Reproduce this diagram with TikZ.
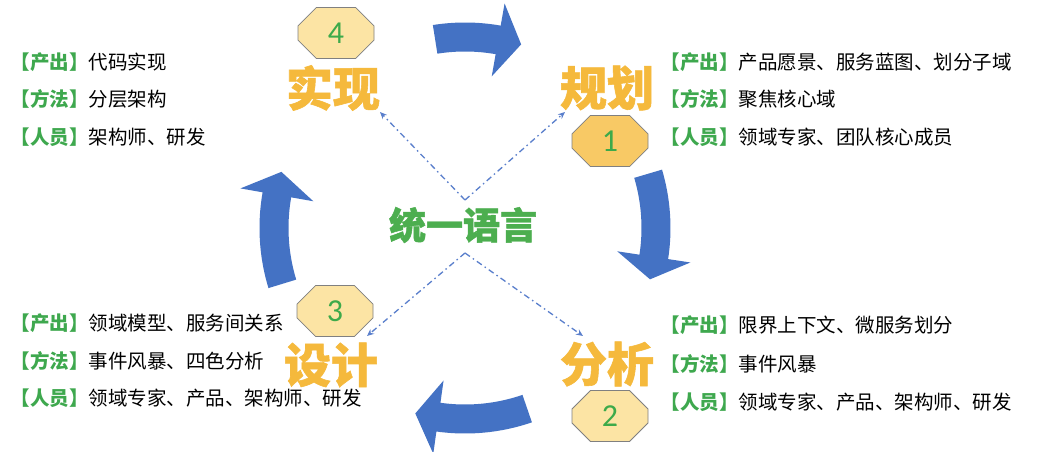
\documentclass[tikz,border=0pt]{standalone}
\usepackage{fontspec}
\setmainfont{Noto Sans CJK SC}
\newfontfamily\heavyfont{Noto Sans CJK SC}[BoldFeatures={FakeBold=1.2}]
\newfontfamily\digitfont{Carlito}
\usetikzlibrary{arrows.meta,shapes.misc}
\definecolor{ablue}{HTML}{4472C4}
\definecolor{dblue}{HTML}{5A7FCC}
\definecolor{torange}{HTML}{F5B93C}
\definecolor{lgreen}{HTML}{3EA84E}
\definecolor{cgreen}{HTML}{4CAE4F}
\definecolor{dgreen}{HTML}{3DAA4A}
\definecolor{octlight}{HTML}{FCE4A4}
\definecolor{octstrong}{HTML}{F8C965}
\definecolor{octborder}{HTML}{808080}
\newcommand\lab[1]{{\color{lgreen}\bfseries 【#1】}}
\newcommand\cycarrow[3]{%
  \fill[ablue] (#1:205.5) arc[start angle=#1,end angle=#2,radius=205.5]
    -- (#2:228) -- (#3:192) -- (#2:154) -- (#2:176.5)
    arc[start angle=#2,end angle=#1,radius=176.5] -- cycle;}
\tikzset{
  oct/.style={chamfered rectangle, chamfered rectangle xsep=12pt,
    chamfered rectangle ysep=12pt, minimum width=76pt, minimum height=51pt,
    draw=octborder, line width=0.8pt, inner sep=0pt,
    font=\digitfont\fontsize{32}{32}\selectfont, text=dgreen},
  title/.style={inner sep=0pt, text=torange, font=\heavyfont\bfseries\fontsize{47}{47}\selectfont},
  info/.style={inner sep=0pt, align=left, anchor=west},
  ddash/.style={draw=dblue, line width=1.3pt,
    dash pattern=on 6pt off 3.5pt on 1.5pt off 3.5pt,
    -{Stealth[length=7pt,width=6pt]}}
}
\begin{document}
\begin{tikzpicture}[x=1pt,y=1pt]
\useasboundingbox[fill=white] (0,0) rectangle (1037,451);
\coordinate (c) at (465,223);
\begin{scope}[shift={(c)}]
  \cycarrow{99}{80}{73}
  \cycarrow{16.5}{-8.7}{-15.5}
  \cycarrow{-71}{-98}{-105}
  \cycarrow{197}{170}{163}
\end{scope}
% dash-dot connectors
\coordinate (vtop) at (465,251);
\coordinate (vbot) at (465,198);
\coordinate (e4) at (380,339);
\coordinate (e1) at (565,339);
\coordinate (e3) at (367,115);
\coordinate (e2) at (583,115);
\draw[ddash] (vtop) -- (e4);
\draw[ddash] (vtop) -- (e1);
\draw[ddash] (vbot) -- (e3);
\draw[ddash] (vbot) -- (e2);
% center
\node[inner sep=0pt, text=cgreen, font=\heavyfont\bfseries\fontsize{37}{37}\selectfont] (lang) at (463,226) {统一语言};
% octagons
\node[oct, fill=octlight] (n4) at (336,418) {4};
\node[oct, fill=octstrong] (n1) at (610,310) {1};
\node[oct, fill=octlight] (n3) at (335,140) {3};
\node[oct, fill=octlight] (n2) at (610,35) {2};
% titles
\node[title] (t4) at (333,363) {实现};
\node[title] (t1) at (607,363) {规划};
\node[title] (t3) at (331,86) {设计};
\node[title] (t2) at (607,87) {分析};
% info blocks
\node[info, font=\fontsize{19.5}{37.5}\selectfont] (i4) at (10.5,351.5)
  {\lab{产出}代码实现\\\lab{方法}分层架构\\\lab{人员}架构师、研发};
\node[info, font=\fontsize{19.5}{37.5}\selectfont] (i1) at (660.5,351.5)
  {\lab{产出}产品愿景、服务蓝图、划分子域\\\lab{方法}聚焦核心域\\\lab{人员}领域专家、团队核心成员};
\node[info, font=\fontsize{19.5}{37.5}\selectfont] (i3) at (10.5,90)
  {\lab{产出}领域模型、服务间关系\\\lab{方法}事件风暴、四色分析\\\lab{人员}领域专家、产品、架构师、研发};
\node[info, font=\fontsize{19.5}{38.5}\selectfont] (i2) at (660.5,87)
  {\lab{产出}限界上下文、微服务划分\\\lab{方法}事件风暴\\\lab{人员}领域专家、产品、架构师、研发};
\end{tikzpicture}
\end{document}
